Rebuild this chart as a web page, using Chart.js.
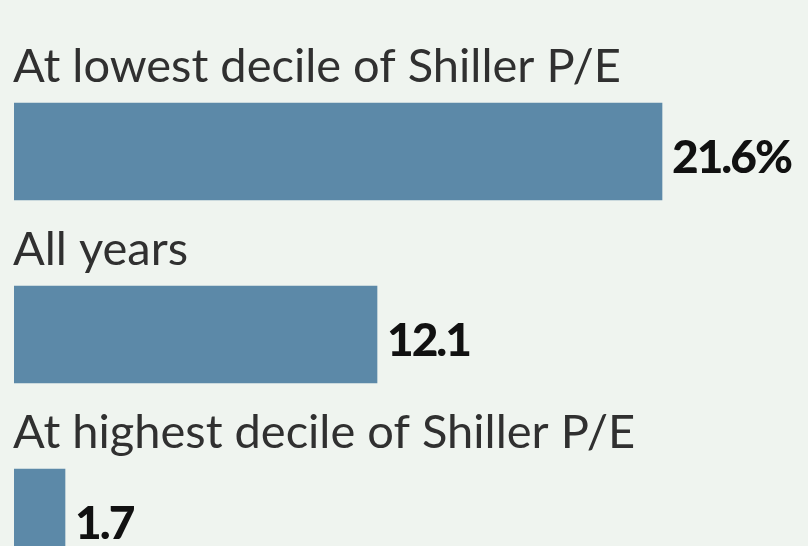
<!DOCTYPE html>
<html>
<head>
<meta charset="utf-8">
<script src="https://cdn.jsdelivr.net/npm/chart.js@4/dist/chart.umd.min.js"></script>
<style>
  html, body { margin: 0; padding: 0; background: #eff4ef; overflow: hidden; width: 808px; height: 546px; }
  #wrap { position: absolute; left: 0; top: 0; width: 808px; height: 620px; }
</style>
</head>
<body>
<div id="wrap"><canvas id="c" width="808" height="620"></canvas></div>
<script>
const categories = ['At lowest decile of Shiller P/E', 'All years', 'At highest decile of Shiller P/E'];
const values = [21.6, 12.1, 1.7];
const valueLabels = ['21.6%', '12.1', '1.7'];

const labelPlugin = {
  id: 'barLabels',
  afterDatasetsDraw(chart) {
    const ctx = chart.ctx;
    const meta = chart.getDatasetMeta(0);
    ctx.save();
    meta.data.forEach((bar, i) => {
      const p = bar.getProps(['x', 'y', 'base', 'height'], true);
      const top = p.y - p.height / 2;
      ctx.textAlign = 'left';
      ctx.textBaseline = 'alphabetic';
      ctx.letterSpacing = '0px';
      ctx.fillStyle = '#303030';
      ctx.font = '400 47px Lato, "Liberation Sans", sans-serif';
      ctx.fillText(categories[i], chart.chartArea.left - 1, top - 21);
      ctx.fillStyle = '#111111';
      ctx.letterSpacing = '-2px';
      ctx.font = '900 46px Lato, "Liberation Sans", sans-serif';
      ctx.fillText(valueLabels[i], p.x + 10, p.y + 21);
    });
    ctx.restore();
  }
};

new Chart(document.getElementById('c'), {
  type: 'bar',
  data: {
    labels: categories,
    datasets: [{
      data: values,
      backgroundColor: '#5c89a8',
      borderWidth: 0,
      barThickness: 97
    }]
  },
  options: {
    indexAxis: 'y',
    responsive: false,
    devicePixelRatio: 1,
    animation: false,
    layout: { padding: { left: 14, right: 14, top: 60, bottom: 11 } },
    plugins: { legend: { display: false }, tooltip: { enabled: false } },
    scales: {
      x: { display: false, min: 0, max: 26 },
      y: { display: false }
    }
  },
  plugins: [labelPlugin]
});
</script>
</body>
</html>
